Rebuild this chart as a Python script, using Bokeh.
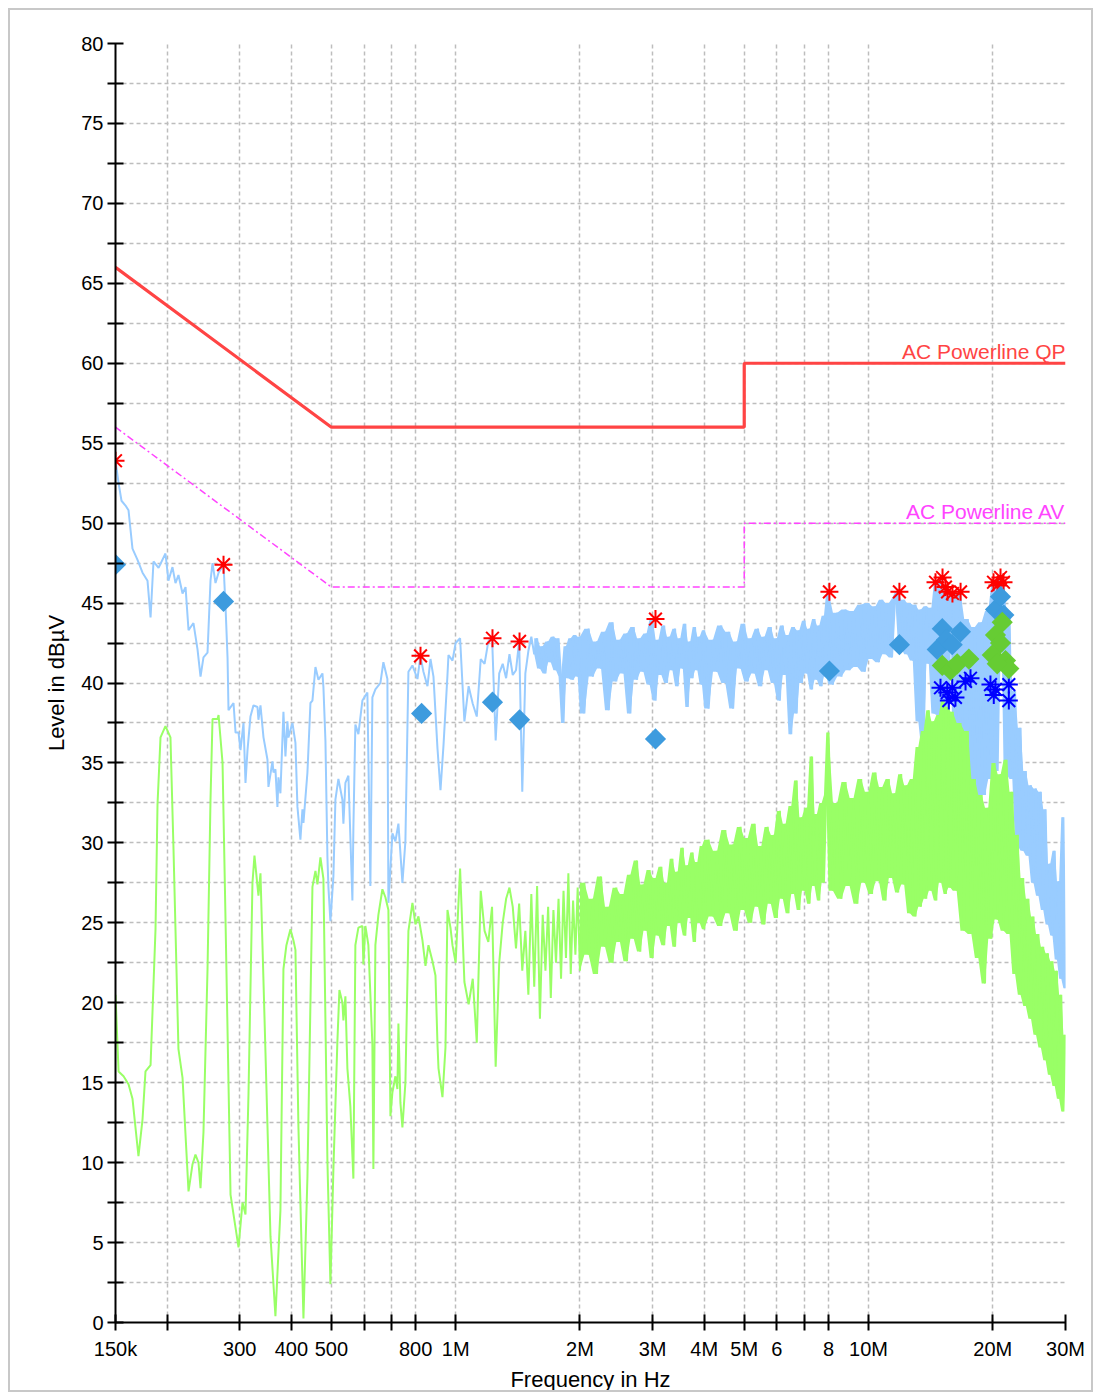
import math
from bokeh.plotting import figure
from bokeh.models import Range1d, FixedTicker, Label, ColumnDataSource
from bokeh.embed import file_html
from bokeh.resources import INLINE

# ---------------- data (frequencies in MHz, levels in dBuV) ----------------
limit_f = [0.15, 0.5, 5.0, 5.0, 30.0]
qp_limit = [66.0, 56.0, 56.0, 60.0, 60.0]
av_limit = [56.0, 46.0, 46.0, 50.0, 50.0]

blue_low_f = [0.1500, 0.1526, 0.1551, 0.1586, 0.1613, 0.1649, 0.1696, 0.1744, 0.1793, 0.1824,
              0.1854, 0.1907, 0.1982, 0.2015, 0.2061, 0.2096, 0.2131, 0.2180, 0.2217, 0.2254,
              0.2317, 0.2370, 0.2410, 0.2450, 0.2506, 0.2548, 0.2577, 0.2620, 0.2665, 0.2740,
              0.2771, 0.2802, 0.2817, 0.2897, 0.2930, 0.2979, 0.3012, 0.3063, 0.3097, 0.3132,
              0.3184, 0.3238, 0.3311, 0.3329, 0.3367, 0.3424, 0.3501, 0.3520, 0.3600, 0.3620,
              0.3660, 0.3701, 0.3722, 0.3763, 0.3827, 0.3870, 0.3913, 0.3935, 0.4024, 0.4092,
              0.4138, 0.4207, 0.4255, 0.4279, 0.4375, 0.4449, 0.4499, 0.4575, 0.4652, 0.4757,
              0.4783, 0.4837, 0.4891, 0.4918, 0.4973, 0.5057, 0.5114, 0.5200, 0.5317, 0.5347,
              0.5407, 0.5498, 0.5622, 0.5653, 0.5716, 0.5813, 0.5944, 0.6112, 0.6215, 0.6285,
              0.6391, 0.6572, 0.6683, 0.6834, 0.6872, 0.7028, 0.7146, 0.7267, 0.7431, 0.7556,
              0.7684, 0.7858, 0.8081, 0.8217, 0.8356, 0.8545, 0.8690, 0.8836, 0.9036, 0.9189,
              0.9344, 0.9554, 0.9607, 0.9824]
blue_low_lvl = [53.9, 52.5, 51.4, 51.1, 50.8, 48.4, 47.7, 46.9, 46.4, 44.1,
                47.6, 47.2, 48.1, 46.4, 47.25, 46.25, 46.75, 45.6, 46.0, 43.3,
                43.75, 42.1, 40.4, 41.6, 41.9, 46.4, 47.5, 46.25, 46.9, 47.4,
                44.75, 41.6, 38.3, 38.75, 36.9, 36.9, 35.8, 37.5, 33.75, 35.8,
                37.9, 38.6, 38.5, 37.7, 38.6, 36.6, 35.2, 33.5, 35.1, 34.4,
                34.6, 32.25, 34.1, 33.1, 38.2, 35.4, 37.6, 36.6, 37.5, 36.25,
                32.25, 30.2, 32.1, 31.25, 34.4, 38.75, 38.9, 41.0, 40.2, 40.6,
                39.75, 36.4, 29.1, 27.25, 25.1, 27.9, 32.7, 34.0, 32.7, 31.2,
                33.75, 34.2, 26.4, 30.9, 37.4, 36.8, 38.9, 39.4, 27.3, 39.1,
                39.6, 40.0, 41.3, 40.25, 26.25, 30.6, 30.1, 31.2, 27.5, 30.1,
                40.7, 41.1, 40.25, 41.7, 40.7, 39.8, 41.5, 40.4, 35.9, 33.3,
                36.1, 40.5, 41.75, 41.4]

green_low_f = [0.1500, 0.1526, 0.1569, 0.1613, 0.1649, 0.1705, 0.1744, 0.1773, 0.1824, 0.1875,
               0.1896, 0.1928, 0.1982, 0.2038, 0.2072, 0.2131, 0.2180, 0.2217, 0.2254, 0.2305,
               0.2343, 0.2383, 0.2410, 0.2450, 0.2506, 0.2548, 0.2577, 0.2650, 0.2665, 0.2725,
               0.2771, 0.2849, 0.2979, 0.3046, 0.3097, 0.3149, 0.3220, 0.3256, 0.3329, 0.3367,
               0.3462, 0.3560, 0.3660, 0.3763, 0.3827, 0.3891, 0.3935, 0.3980, 0.4047, 0.4092,
               0.4161, 0.4279, 0.4375, 0.4499, 0.4575, 0.4626, 0.4704, 0.4783, 0.4891, 0.4973,
               0.5057, 0.5171, 0.5229, 0.5317, 0.5347, 0.5407, 0.5467, 0.5559, 0.5653, 0.5716,
               0.5813, 0.5944, 0.5977, 0.6044, 0.6146, 0.6285, 0.6320, 0.6391, 0.6499, 0.6646,
               0.6758, 0.6872, 0.6950, 0.7028, 0.7146, 0.7226, 0.7267, 0.7348, 0.7431, 0.7556,
               0.7684, 0.7858, 0.7991, 0.8126, 0.8310, 0.8451, 0.8593, 0.8787, 0.8935, 0.9036,
               0.9087, 0.9291, 0.9448, 0.9554, 0.9715, 0.9824]
green_low_lvl = [20.5, 15.7, 15.4, 14.9, 14.0, 10.4, 12.7, 15.7, 16.1, 24.6,
                 32.4, 36.6, 37.3, 36.6, 29.8, 17.1, 15.3, 11.7, 8.2, 9.9,
                 10.5, 10.0, 8.4, 11.9, 22.1, 32.7, 37.75, 37.75, 38.0, 35.0,
                 25.1, 8.0, 4.7, 7.5, 6.75, 14.25, 27.5, 29.2, 26.7, 28.1,
                 16.9, 5.4, 0.4, 7.0, 22.1, 23.6, 24.1, 24.6, 23.9, 23.3,
                 12.2, 0.25, 9.1, 27.25, 28.25, 27.4, 29.1, 27.75, 10.1, 2.4,
                 9.6, 17.6, 20.8, 20.0, 18.9, 20.4, 15.9, 13.5, 9.0, 23.6,
                 24.7, 24.8, 22.4, 24.8, 23.6, 17.4, 9.6, 23.6, 25.5, 27.1,
                 26.6, 25.8, 12.9, 14.4, 15.4, 14.6, 18.7, 13.75, 12.2, 15.0,
                 24.5, 26.25, 24.9, 25.4, 23.9, 22.3, 23.6, 22.6, 21.7, 17.4,
                 15.9, 14.1, 17.2, 25.8, 24.7, 23.6]

# dense sweep section (shared frequency grid of the receiver, 1 - 30 MHz)
sweep_f = [1.0, 1.025, 1.05, 1.075, 1.1, 1.125, 1.15, 1.175, 1.2, 1.225,
           1.25, 1.275, 1.3, 1.325, 1.35, 1.375, 1.4, 1.425, 1.45, 1.475,
           1.5, 1.525, 1.55, 1.575, 1.6, 1.625, 1.65, 1.675, 1.7, 1.725,
           1.75, 1.775, 1.8, 1.825, 1.85, 1.875, 1.9, 1.925, 1.95, 1.975,
           2.0, 2.05, 2.1, 2.15, 2.2, 2.25, 2.3, 2.35, 2.4, 2.45,
           2.5, 2.55, 2.6, 2.65, 2.7, 2.75, 2.8, 2.85, 2.9, 2.95,
           3.0, 3.05, 3.1, 3.15, 3.2, 3.25, 3.3, 3.35, 3.4, 3.45,
           3.5, 3.55, 3.6, 3.65, 3.7, 3.75, 3.8, 3.85, 3.9, 3.95,
           4.0, 4.1, 4.2, 4.3, 4.4, 4.5, 4.6, 4.7, 4.8, 4.9,
           5.0, 5.1, 5.2, 5.3, 5.4, 5.5, 5.6, 5.7, 5.8, 5.9,
           6.0, 6.1, 6.2, 6.3, 6.4, 6.5, 6.6, 6.7, 6.8, 6.9,
           7.0, 7.1, 7.2, 7.3, 7.4, 7.5, 7.6, 7.7, 7.8, 7.9,
           8.0, 8.2, 8.4, 8.6, 8.8, 9.0, 9.2, 9.4, 9.6, 9.8,
           10.0, 10.2, 10.4, 10.6, 10.8, 11.0, 11.2, 11.4, 11.6, 11.8,
           12.0, 12.2, 12.4, 12.6, 12.8, 13.0, 13.2, 13.4, 13.6, 13.8,
           14.0, 14.2, 14.4, 14.6, 14.8, 15.0, 15.2, 15.4, 15.6, 15.8,
           16.0, 16.35, 16.7, 17.05, 17.4, 17.75, 18.1, 18.45, 18.8, 19.15,
           19.5, 19.85, 20.2, 20.55, 20.9, 21.25, 21.6, 21.95, 22.3, 22.65,
           23.0, 23.35, 23.7, 24.05, 24.4, 24.75, 25.1, 25.45, 25.8, 26.15,
           26.5, 26.85, 27.2, 27.55, 27.9, 28.25, 28.6, 28.95, 29.3, 29.65,
           30.0]
sweep_blue = [42.5, 42.8, 37.6, 39.8, 38.7, 37.9, 41.5, 41.2, 42.6, 42.9,
              36.4, 40.6, 41.2, 40.3, 41.8, 40.5, 40.8, 42.6, 33.2, 40.6,
              42.0, 42.9, 41.8, 42.8, 40.9, 42.3, 40.6, 42.6, 41.3, 42.9,
              40.8, 42.8, 40.4, 37.5, 42.3, 40.3, 42.8, 40.2, 43.0, 40.4,
              42.9, 38.1, 43.4, 40.4, 42.6, 40.9, 43.2, 38.3, 43.8, 40.1,
              42.7, 40.6, 43.1, 38.1, 43.5, 40.2, 42.8, 40.7, 43.1, 39.9,
              44.0, 38.9, 42.7, 40.5, 43.6, 40.0, 42.9, 40.8, 43.4, 39.8,
              42.8, 40.9, 43.7, 38.5, 42.6, 40.3, 43.5, 40.8, 42.9, 39.9,
              43.3, 38.4, 42.7, 40.7, 43.6, 40.0, 43.2, 38.4, 42.6, 40.9,
              43.7, 40.1, 42.8, 40.6, 43.4, 39.8, 42.9, 40.8, 43.5, 40.0,
              42.8, 38.9, 43.6, 40.5, 43.0, 36.8, 43.5, 38.1, 43.3, 40.0,
              43.9, 40.6, 43.4, 39.6, 44.0, 40.2, 43.6, 39.8, 44.2, 40.4,
              45.7, 39.9, 44.4, 40.4, 44.6, 40.8, 44.5, 41.0, 44.9, 40.7,
              45.0, 41.5, 44.8, 41.3, 45.2, 41.8, 45.0, 41.6, 45.3, 45.7,
              42.2, 45.2, 41.8, 45.0, 41.4, 44.9, 37.6, 44.6, 36.0, 44.8,
              41.2, 44.7, 38.1, 46.3, 38.0, 46.6, 37.5, 46.0, 35.5, 45.7,
              45.6, 33.0, 45.7, 32.5, 44.0, 33.5, 43.5, 32.3, 43.8, 33.0,
              44.5, 34.0, 46.3, 34.5, 46.6, 46.3, 34.3, 44.5, 34.0, 39.5,
              29.8, 37.2, 29.5, 34.5, 29.2, 33.6, 27.5, 33.4, 26.7, 33.2,
              25.8, 32.1, 24.9, 28.7, 24.2, 29.5, 22.7, 27.6, 21.5, 31.6,
              20.9]
sweep_green = [22.5, 28.4, 21.3, 19.9, 21.5, 17.5, 27.0, 24.5, 23.8, 26.0,
               16.0, 22.5, 25.0, 26.5, 27.2, 26.0, 23.4, 26.2, 22.0, 24.5,
               20.5, 26.8, 21.0, 27.3, 19.0, 25.5, 22.0, 26.0, 20.3, 25.8,
               22.5, 26.5, 21.5, 27.0, 22.8, 28.1, 21.8, 26.4, 23.0, 27.2,
               22.0, 27.5, 23.0, 26.5, 21.8, 27.9, 23.5, 26.0, 22.5, 27.2,
               23.8, 26.8, 22.6, 28.0, 24.0, 28.9, 23.2, 27.4, 24.5, 28.3,
               22.8, 27.8, 24.2, 28.5, 23.6, 27.5, 24.8, 29.0, 23.5, 28.2,
               25.0, 29.7, 24.2, 28.6, 25.3, 29.4, 23.8, 28.8, 25.0, 29.8,
               24.6, 30.2, 25.4, 29.5, 24.8, 30.8, 25.6, 29.9, 24.5, 31.0,
               25.8, 30.3, 25.0, 31.2, 26.0, 29.8, 24.9, 31.0, 26.2, 30.5,
               25.3, 32.0, 26.5, 31.2, 25.6, 32.3, 26.8, 33.9, 25.8, 31.6,
               27.0, 32.2, 26.2, 35.4, 27.3, 31.8, 26.4, 32.5, 27.5, 33.0,
               36.9, 27.0, 32.5, 26.5, 33.8, 27.3, 32.8, 26.2, 34.0, 27.5,
               33.2, 26.8, 34.4, 27.6, 33.5, 26.4, 34.0, 27.8, 33.1, 26.9,
               34.3, 27.4, 33.6, 25.6, 34.0, 25.4, 36.0, 26.0, 37.0, 26.5,
               38.3, 27.0, 37.6, 26.4, 38.0, 27.5, 38.9, 26.8, 38.5, 27.2,
               38.2, 27.0, 37.5, 24.5, 37.0, 24.3, 34.0, 22.8, 33.0, 21.2,
               32.2, 24.0, 35.0, 25.2, 34.3, 24.5, 35.2, 24.3, 33.2, 21.8,
               30.5, 20.5, 27.8, 19.8, 26.5, 19.0, 25.4, 18.0, 24.3, 17.2,
               23.5, 16.4, 23.1, 15.5, 22.6, 14.8, 22.0, 14.0, 20.5, 13.2,
               18.0]

qp_peak_f = [0.15, 0.274, 0.822, 1.228, 1.428, 3.048, 8.04, 11.88, 14.53, 15.11,
             15.36, 15.54, 15.97, 16.71, 20.08, 20.53, 20.88, 21.23]
qp_peak_lvl = [53.9, 47.4, 41.7, 42.8, 42.6, 44.0, 45.7, 45.7, 46.3, 46.6,
               46.0, 45.7, 45.6, 45.7, 46.3, 46.1, 46.6, 46.3]

av_peak_f = [14.94, 15.51, 15.95, 16.24, 15.65, 17.18, 17.66, 19.74, 20.3, 20.11, 21.87, 21.87]
av_peak_lvl = [39.7, 39.4, 39.7, 39.1, 38.9, 40.1, 40.3, 39.9, 39.6, 39.25, 39.9, 38.9]

qp_final_f = [0.15, 0.274, 0.827, 1.228, 1.428, 3.048, 8.04, 11.88, 14.67, 15.09,
              15.45, 15.95, 16.7, 20.3, 20.88, 21.27]
qp_final_lvl = [47.4, 45.1, 38.1, 38.8, 37.7, 36.5, 40.75, 42.4, 42.1, 43.4,
                42.7, 42.4, 43.2, 44.6, 45.4, 44.25]

av_final_f = [15.09, 15.8, 16.4, 17.5, 21.08, 20.3, 20.88, 19.94, 21.47, 21.87, 20.5]
av_final_lvl = [41.1, 40.8, 41.2, 41.5, 43.8, 43.0, 42.5, 41.75, 41.4, 40.9, 41.2]

x_ticks = [150e3, 200e3, 300e3, 400e3, 500e3, 600e3, 700e3, 800e3, 1e6, 2e6, 3e6, 4e6,
           5e6, 6e6, 7e6, 8e6, 10e6, 20e6, 30e6]
x_tick_labels = ["150k", "", "300", "400", "500", "", "", "800", "1M", "2M", "3M", "4M",
                 "5M", "6", "", "8", "10M", "20M", "30M"]
y_ticks = [0, 5, 10, 15, 20, 25, 30, 35, 40, 45, 50, 55, 60, 65, 70, 75, 80]
y_minor_ticks = [2.5, 7.5, 12.5, 17.5, 22.5, 27.5, 32.5, 37.5, 42.5, 47.5, 52.5, 57.5,
                 62.5, 67.5, 72.5, 77.5]

# ---------------- figure ----------------
FONT = "Liberation Sans"
MHZ = 1e6
BLUE_TRACE = "#99ccff"
GREEN_TRACE = "#99ff66"


def hz(lst):
    return [v * MHZ for v in lst]


def pair_envelope(vals):
    """lower/upper value of each pair of neighbouring sweep samples"""
    n = len(vals)
    lo = [min(vals[i], vals[min(i + 1, n - 1)]) for i in range(n)]
    hi = [max(vals[i], vals[min(i + 1, n - 1)]) for i in range(n)]
    return lo, hi


p = figure(width=1085, height=1384, x_axis_type="log",
           x_range=Range1d(150e3, 30e6), y_range=Range1d(0, 80),
           output_backend="svg", toolbar_location=None,
           min_border_left=105, min_border_right=30, min_border_top=33, min_border_bottom=71)
p.styles = {"border": "2px solid #c8c8c8", "margin-left": "8px", "margin-top": "8px"}
p.outline_line_color = None
p.background_fill_color = "white"
p.border_fill_color = "white"

grid_col = "#bdbdbd"
for g in (p.xgrid[0], p.ygrid[0]):
    g.grid_line_color = grid_col
    g.grid_line_dash = "4 3"
    g.grid_line_width = 1.5
p.ygrid.minor_grid_line_color = grid_col
p.ygrid.minor_grid_line_dash = "4 3"
p.ygrid.minor_grid_line_width = 1.5

p.xaxis.ticker = FixedTicker(ticks=x_ticks, minor_ticks=[])
p.xaxis.major_label_overrides = {t: l for t, l in zip(x_ticks, x_tick_labels)}
p.yaxis.ticker = FixedTicker(ticks=y_ticks, minor_ticks=y_minor_ticks)

for ax in (p.xaxis[0], p.yaxis[0]):
    ax.axis_line_width = 2
    ax.axis_line_color = "black"
    ax.major_tick_line_width = 2
    ax.major_tick_line_color = "black"
    ax.major_tick_in = 8
    ax.major_tick_out = 8
    ax.minor_tick_line_width = 2
    ax.minor_tick_line_color = "black"
    ax.minor_tick_in = 8
    ax.minor_tick_out = 8
    ax.major_label_text_font = FONT
    ax.major_label_text_font_size = "20px"
    ax.major_label_text_color = "black"
    ax.axis_label_text_font = FONT
    ax.axis_label_text_font_size = "22px"
    ax.axis_label_text_font_style = "normal"
    ax.axis_label_text_color = "black"

p.xaxis.axis_label = "Frequency in Hz"
p.yaxis.axis_label = "Level in dB\u00b5V"
p.xaxis.major_label_standoff = 7
p.xaxis.axis_label_standoff = 4
p.yaxis.major_label_standoff = 4
p.yaxis.axis_label_standoff = 9

# traces: sparse low-frequency part + dense receiver sweep
blue_split = [i for i, f in enumerate(sweep_f) if f >= 1.55][0]
green_split = [i for i, f in enumerate(sweep_f) if f >= 2.0][0]

blue_all = ColumnDataSource(dict(x=hz(blue_low_f + sweep_f), y=blue_low_lvl + sweep_blue))
green_all = ColumnDataSource(dict(x=hz(green_low_f + sweep_f), y=green_low_lvl + sweep_green))

b_lo, b_hi = pair_envelope(sweep_blue[blue_split:])
g_lo, g_hi = pair_envelope(sweep_green[green_split:])
blue_band = ColumnDataSource(dict(x=hz(sweep_f[blue_split:]), lo=b_lo, hi=b_hi))
green_band = ColumnDataSource(dict(x=hz(sweep_f[green_split:]), lo=g_lo, hi=g_hi))

p.varea(x="x", y1="lo", y2="hi", source=blue_band, fill_color=BLUE_TRACE)
p.line("x", "y", source=blue_all, line_color=BLUE_TRACE, line_width=2)
p.varea(x="x", y1="lo", y2="hi", source=green_band, fill_color=GREEN_TRACE)
p.line("x", "y", source=green_all, line_color=GREEN_TRACE, line_width=2)

# limit lines
p.line(hz(limit_f), qp_limit, line_color="#ff4444", line_width=3.2)
p.line(hz(limit_f), av_limit, line_color="#ff44ff", line_width=1.5, line_dash="7 3 2 3")

# markers
p.scatter(hz(qp_peak_f), qp_peak_lvl, marker="asterisk", size=18,
          line_color="#ff0000", line_width=2)
p.scatter(hz(av_peak_f), av_peak_lvl, marker="asterisk", size=18,
          line_color="#0000ff", line_width=2)
p.scatter(hz(qp_final_f), qp_final_lvl, marker="square", angle=math.pi / 4, size=15,
          fill_color="#3d9bde", line_color=None)
p.scatter(hz(av_final_f), av_final_lvl, marker="square", angle=math.pi / 4, size=15,
          fill_color="#66cc33", line_color=None)

p.add_layout(Label(x=30e6, y=60, x_offset=0, text="AC Powerline QP", text_align="right",
                   text_baseline="bottom", text_color="#ff4444", text_font=FONT,
                   text_font_size="21px"))
p.add_layout(Label(x=30e6, y=50, x_offset=0, text="AC Powerline AV", text_align="right",
                   text_baseline="bottom", text_color="#ff44ff", text_font=FONT,
                   text_font_size="21px"))

open("out.html", "w").write(file_html(p, INLINE))
